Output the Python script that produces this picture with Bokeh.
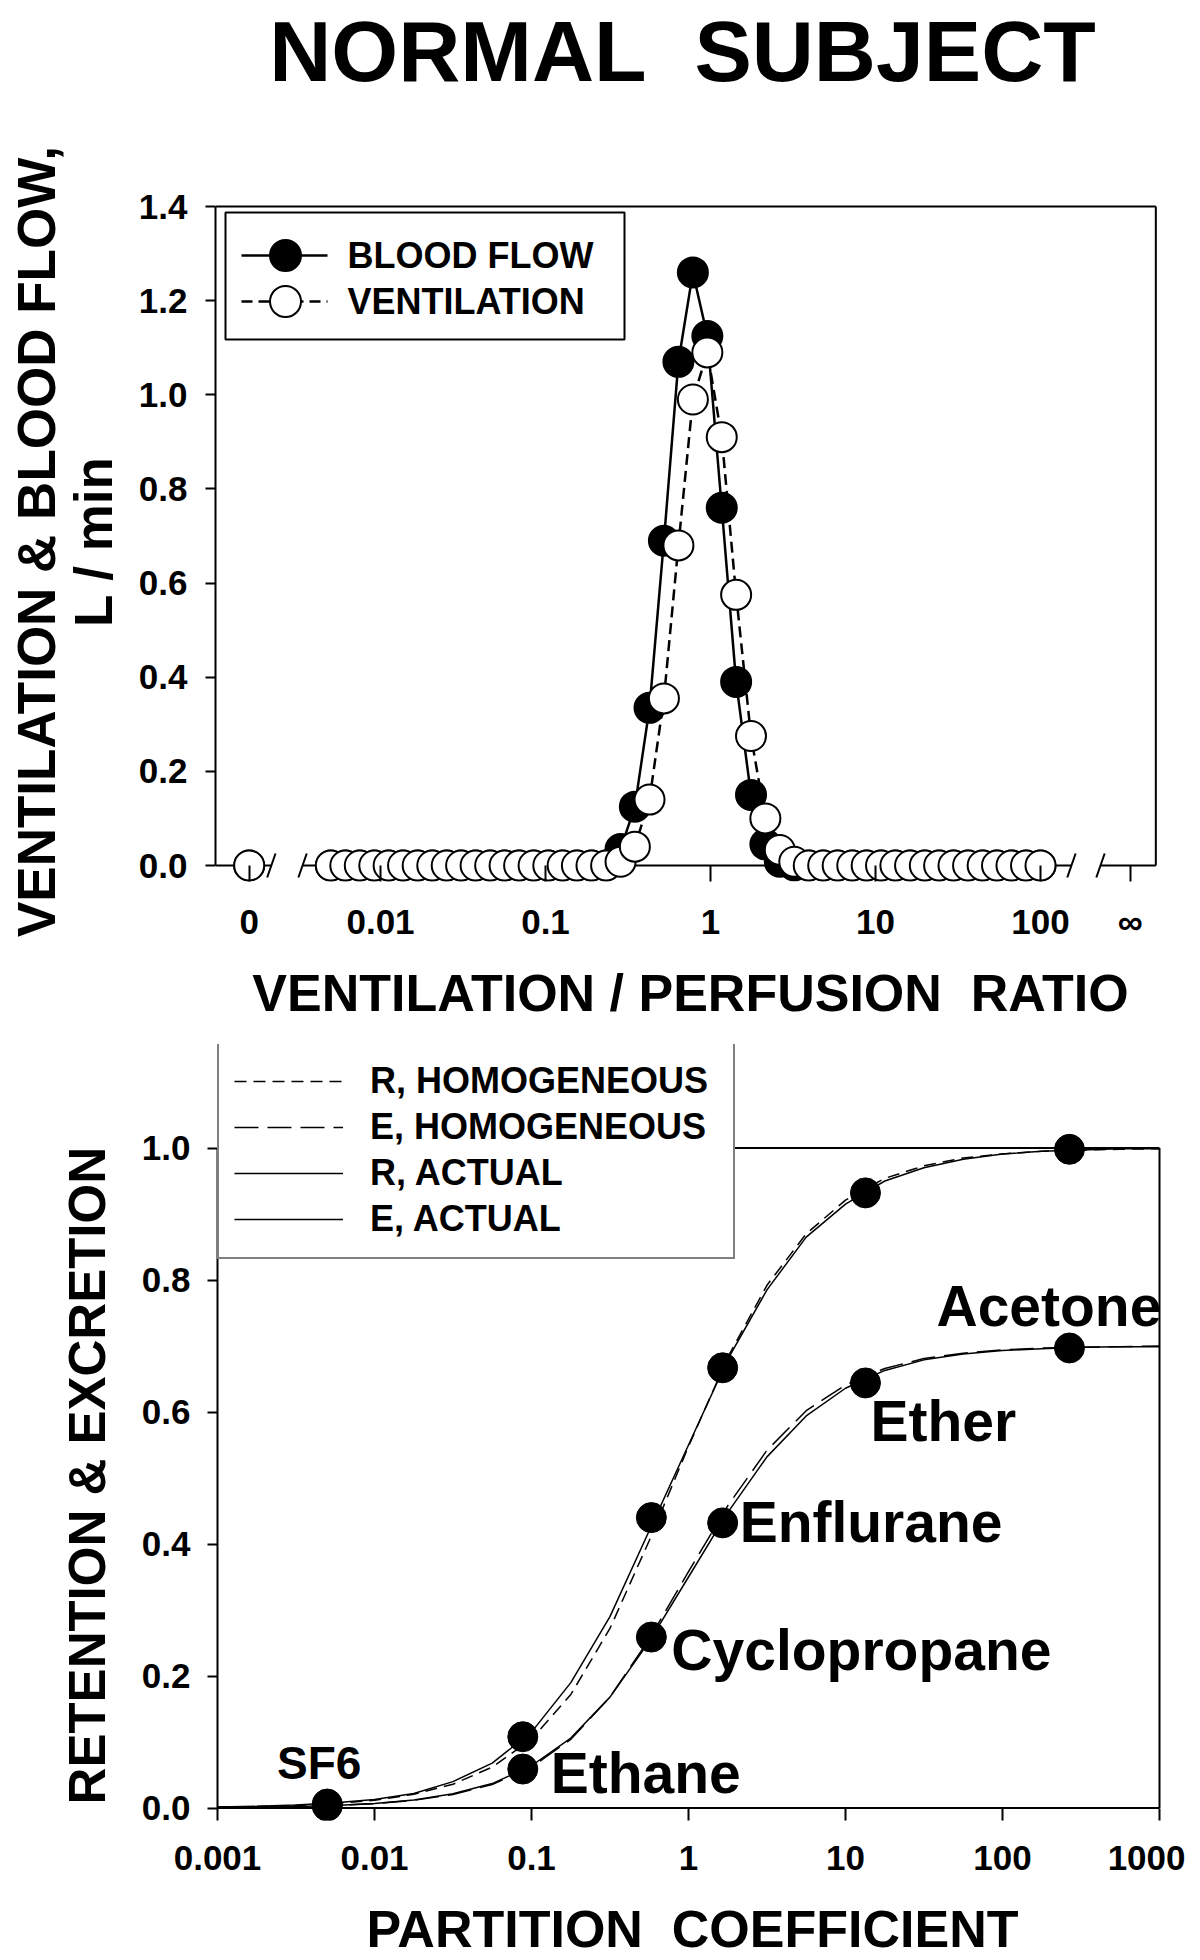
import math
from bokeh.plotting import figure
from bokeh.models import Range1d, FixedTicker, Legend, LegendItem, PrintfTickFormatter
from bokeh.layouts import column, row
from bokeh.embed import file_html
from bokeh.resources import INLINE
from bokeh.core.properties import value

FONT = "Liberation Sans"
NBSP = "\u00a0"

# ---------------- top panel: V/Q distribution ----------------
va_q_ratio = [0.005, 0.00612, 0.00749, 0.00917, 0.0112, 0.0137, 0.0168, 0.0206, 0.0252, 0.0308,
              0.0377, 0.0462, 0.0565, 0.0692, 0.0847, 0.104, 0.127, 0.155, 0.190, 0.233,
              0.285, 0.348, 0.427, 0.522, 0.639, 0.782, 0.957, 1.17, 1.43, 1.76,
              2.15, 2.63, 3.22, 3.94, 4.82, 5.90, 7.23, 8.84, 10.8, 13.2,
              16.2, 19.9, 24.3, 29.7, 36.4, 44.6, 54.5, 66.7, 81.7, 100.0]
blood_flow = [0.0, 0.0, 0.0, 0.0, 0.0, 0.0, 0.0, 0.0, 0.0, 0.0,
              0.0, 0.0, 0.0, 0.0, 0.0, 0.0, 0.0, 0.0, 0.0, 0.0,
              0.035, 0.125, 0.335, 0.69, 1.07, 1.26, 1.125, 0.76, 0.39, 0.15,
              0.045, 0.008, 0.0, 0.0, 0.0, 0.0, 0.0, 0.0, 0.0, 0.0,
              0.0, 0.0, 0.0, 0.0, 0.0, 0.0, 0.0, 0.0, 0.0, 0.0]
ventilation = [0.0, 0.0, 0.0, 0.0, 0.0, 0.0, 0.0, 0.0, 0.0, 0.0,
               0.0, 0.0, 0.0, 0.0, 0.0, 0.0, 0.0, 0.0, 0.0, 0.0,
               0.008, 0.04, 0.14, 0.355, 0.68, 0.99, 1.09, 0.91, 0.575, 0.275,
               0.10, 0.033, 0.008, 0.0, 0.0, 0.0, 0.0, 0.0, 0.0, 0.0,
               0.0, 0.0, 0.0, 0.0, 0.0, 0.0, 0.0, 0.0, 0.0, 0.0]
shunt_position = [0.0016]          # where "0" (V/Q = 0) sits on the axis
shunt_blood_flow = [0.0]
shunt_ventilation = [0.0]

top_tick_values = [0.0016, 0.01, 0.1, 1, 10, 100, 350]
top_tick_labels = ["0", "0.01", "0.1", "1", "10", "100", "\u221e"]
top_y_ticks = [0.0, 0.2, 0.4, 0.6, 0.8, 1.0, 1.2, 1.4]
axis_breaks = [0.00218, 0.00337, 154, 231]

# ---------------- bottom panel: retention / excretion ----------------
gases = ["SF6", "Ethane", "Cyclopropane", "Enflurane", "Ether", "Acetone"]
partition = [0.005, 0.088, 0.58, 1.65, 13.4, 267]
retention = [0.006, 0.108, 0.44, 0.667, 0.932, 0.998]
excretion = [0.003, 0.059, 0.259, 0.432, 0.644, 0.697]

curve_lambda = [0.001, 0.00178, 0.00316, 0.00562, 0.01, 0.0178, 0.0316, 0.0562, 0.1, 0.178,
                0.316, 0.562, 1.0, 1.78, 3.16, 5.62, 10.0, 17.8, 31.6, 56.2,
                100.0, 178.0, 316.0, 562.0, 1000.0]
r_homogeneous = [0.0012, 0.0021, 0.0038, 0.0067, 0.0118, 0.0207, 0.036, 0.062, 0.104, 0.172,
                 0.272, 0.405, 0.548, 0.683, 0.792, 0.870, 0.921, 0.954, 0.973, 0.985,
                 0.991, 0.995, 0.997, 0.998, 0.999]
e_homogeneous = [0.0007, 0.0012, 0.0021, 0.0037, 0.0066, 0.0116, 0.0205, 0.0355, 0.062, 0.104,
                 0.168, 0.256, 0.358, 0.458, 0.542, 0.602, 0.641, 0.666, 0.681, 0.689,
                 0.694, 0.697, 0.698, 0.699, 0.700]
r_actual = [0.0015, 0.0025, 0.0045, 0.008, 0.013, 0.022, 0.040, 0.068, 0.115, 0.19,
            0.29, 0.42, 0.55, 0.68, 0.785, 0.865, 0.915, 0.950, 0.970, 0.983,
            0.991, 0.995, 0.997, 0.999, 0.999]
e_actual = [0.0007, 0.0012, 0.0022, 0.0039, 0.0069, 0.0122, 0.0215, 0.037, 0.064, 0.106,
            0.168, 0.252, 0.350, 0.448, 0.532, 0.594, 0.636, 0.663, 0.679, 0.688,
            0.693, 0.696, 0.698, 0.699, 0.699]

bottom_tick_values = [0.001, 0.01, 0.1, 1, 10, 100, 1000]
bottom_tick_labels = ["0.001", "0.01", "0.1", "1", "10", "100", "1000"]
bottom_y_ticks = [0.0, 0.2, 0.4, 0.6, 0.8, 1.0]


def style_common(p):
    p.outline_line_color = None
    p.xgrid.visible = False
    p.ygrid.visible = False
    p.background_fill_color = "white"
    p.border_fill_color = "white"
    for ax in (p.xaxis[0], p.yaxis[0]):
        ax.major_label_text_font = FONT
        ax.major_label_text_font_style = "bold"
        ax.major_label_text_font_size = "35px"
        ax.major_label_text_color = "black"
        ax.axis_label_text_font = FONT
        ax.axis_label_text_font_style = "bold"
        ax.axis_label_text_font_size = "52px"
        ax.axis_label_text_color = "black"
        ax.minor_tick_line_color = None
        ax.major_tick_line_width = 2
        ax.major_tick_line_color = "black"
    p.xaxis[0].axis_line_color = None
    p.xaxis[0].major_tick_out = 0
    p.yaxis[0].axis_line_width = 2
    p.yaxis[0].axis_line_color = "black"
    p.yaxis[0].major_tick_out = 10
    p.yaxis[0].major_tick_in = 0


def text_strip(width, height, yspan):
    """A bare figure (frame = whole strip, pixel coordinates) used for titles."""
    f = figure(width=width, height=height, x_range=Range1d(0, width), y_range=Range1d(0, yspan),
               x_axis_location=None, y_axis_location=None, output_backend="svg",
               toolbar_location=None, min_border=0, title=None)
    f.outline_line_color = None
    f.grid.visible = False
    f.background_fill_color = "white"
    f.border_fill_color = "white"
    return f


def strip_text(f, x, y, text, size, angle=0.0):
    f.text(x=[x], y=[y], text=[text], angle=angle, text_font=value(FONT), text_font_style="bold",
           text_font_size=size, text_align="center", text_baseline="middle", text_color="black")


PAGE_W = 1185
TITLE_H = 100

# ================= TITLE =================
title_fig = text_strip(PAGE_W, TITLE_H, TITLE_H)
strip_text(title_fig, 682, TITLE_H - 50, "NORMAL" + NBSP + " SUBJECT", "86px")

# ================= TOP FIGURE =================
TOP_DEC = 165.0      # px per decade
TOP_UNIT = 470.7     # px per L/min
TOP_FRAME_W = 950
TOP_FRAME_H = 680
top_x0 = 0.001
top_y0 = -16 / TOP_UNIT


def tx(dpx):
    return 10 ** (math.log10(top_x0) + dpx / TOP_DEC)


def ty(dpx):
    return dpx / TOP_UNIT


top = figure(frame_width=TOP_FRAME_W, frame_height=TOP_FRAME_H, x_axis_type="log",
             x_range=Range1d(top_x0, tx(TOP_FRAME_W)),
             y_range=Range1d(top_y0, top_y0 + TOP_FRAME_H / TOP_UNIT),
             output_backend="svg", toolbar_location=None, title=None,
             min_border_left=215, min_border_right=20, min_border_top=101, min_border_bottom=153)
style_common(top)

top_box_right = 500
top_box_top = top_y_ticks[-1]

xa = top.xaxis[0]
xa.ticker = FixedTicker(ticks=top_tick_values)
xa.major_label_overrides = dict(zip(top_tick_values, top_tick_labels))
xa.major_tick_in = 16
xa.major_label_standoff = 20
xa.axis_label = "VENTILATION / PERFUSION" + NBSP + " RATIO"
xa.axis_label_standoff = 20

ya = top.yaxis[0]
ya.ticker = FixedTicker(ticks=top_y_ticks)
ya.formatter = PrintfTickFormatter(format="%.1f")
ya.major_label_standoff = 18
ya.bounds = (0, top_box_top)
ya.axis_label = "VENTILATION & BLOOD FLOW,\nL / min"
ya.axis_label_text_font_size = "53px"
ya.axis_label_text_line_height = 0.96
ya.axis_label_standoff = 13

# frame lines (top and right) and broken baseline
top.segment(x0=[top_x0, top_box_right], y0=[top_box_top, 0],
            x1=[top_box_right, top_box_right], y1=[top_box_top, top_box_top],
            line_color="black", line_width=2)
base_x0 = [top_x0, axis_breaks[1], axis_breaks[3]]
base_x1 = [axis_breaks[0], axis_breaks[2], top_box_right]
top.segment(x0=base_x0, y0=[0, 0, 0], x1=base_x1, y1=[0, 0, 0],
            line_color="black", line_width=2)
slash_h = ty(12)
top.segment(x0=[b / 1.06 for b in axis_breaks], y0=[-slash_h] * 4,
            x1=[b * 1.06 for b in axis_breaks], y1=[slash_h] * 4,
            line_color="black", line_width=2)

top.line(va_q_ratio, blood_flow, line_color="black", line_width=2.5)
top.line(va_q_ratio, ventilation, line_color="black", line_width=2.5, line_dash="11 6")
top.scatter(va_q_ratio, blood_flow, marker="circle", size=30,
            fill_color="black", line_color="black", line_width=2)
top.scatter(va_q_ratio, ventilation, marker="circle", size=30,
            fill_color="white", line_color="black", line_width=2)
top.scatter(shunt_position, shunt_blood_flow, marker="circle", size=30,
            fill_color="black", line_color="black", line_width=2)
top.scatter(shunt_position, shunt_ventilation, marker="circle", size=30,
            fill_color="white", line_color="black", line_width=2)

# legend (drawn by hand so that its markers match the data markers)
top.quad(left=[tx(10)], right=[tx(409)], top=[ty(653)], bottom=[ty(526)],
         fill_color="white", line_color="black", line_width=2)
legend_rows = [ty(610), ty(564)]
legend_names = ["BLOOD FLOW", "VENTILATION"]
legend_fill = ["black", "white"]
legend_dash = ["solid", "11 6"]
for ry, name, fc, dash in zip(legend_rows, legend_names, legend_fill, legend_dash):
    top.line([tx(26), tx(112)], [ry, ry], line_color="black", line_width=2.5, line_dash=dash)
    top.scatter([tx(70)], [ry], marker="circle", size=31, fill_color=fc,
                line_color="black", line_width=2)
    top.text(x=[tx(132)], y=[ry], text=[name], text_font=value(FONT), text_font_style="bold",
             text_font_size="36px", text_align="left", text_baseline="middle", text_color="black")

# ================= BOTTOM FIGURE =================
BOT_DEC = 157.0
BOT_UNIT = 660.0
BOT_FRAME_W = 950
BOT_FRAME_H = 776
LABEL_W = 120
bot_x0 = 0.001
bot_y_top = 763.5 / BOT_UNIT


def bx(dpx):
    return 10 ** (math.log10(bot_x0) + dpx / BOT_DEC)


bot = figure(frame_width=BOT_FRAME_W, frame_height=BOT_FRAME_H, x_axis_type="log",
             x_range=Range1d(bot_x0, bx(BOT_FRAME_W)),
             y_range=Range1d(bot_y_top - BOT_FRAME_H / BOT_UNIT, bot_y_top),
             output_backend="svg", toolbar_location=None, title=None,
             min_border_left=97, min_border_right=18, min_border_top=10, min_border_bottom=135)
style_common(bot)
BOT_H = 10 + BOT_FRAME_H + 135

bx_left = bottom_tick_values[0]
bx_right = bottom_tick_values[-1]
by_top = bottom_y_ticks[-1]

xb = bot.xaxis[0]
xb.ticker = FixedTicker(ticks=bottom_tick_values)
xb.major_label_overrides = dict(zip(bottom_tick_values, bottom_tick_labels))
xb.major_tick_in = 12
xb.major_label_standoff = 25
xb.axis_label = "PARTITION" + NBSP + " COEFFICIENT"
xb.axis_label_standoff = 27

yb = bot.yaxis[0]
yb.ticker = FixedTicker(ticks=bottom_y_ticks)
yb.formatter = PrintfTickFormatter(format="%.1f")
yb.major_label_standoff = 17
yb.bounds = (0, by_top)

bot.segment(x0=[bx_left, bx_right, bx_left], y0=[by_top, 0, 0],
            x1=[bx_right, bx_right, bx_right], y1=[by_top, by_top, 0],
            line_color="black", line_width=2)

r_hom = bot.line(curve_lambda, r_homogeneous, line_color="black", line_width=1.5, line_dash="12 7")
e_hom = bot.line(curve_lambda, e_homogeneous, line_color="black", line_width=1.5, line_dash="24 9")
r_act = bot.line(curve_lambda, r_actual, line_color="black", line_width=1.5)
e_act = bot.line(curve_lambda, e_actual, line_color="black", line_width=1.5)

bot.scatter(partition, retention, marker="circle", size=30, fill_color="black", line_color="black")
bot.scatter(partition, excretion, marker="circle", size=30, fill_color="black", line_color="black")

# gas names, placed next to each excretion point (screen offsets, px)
label_dx = [-8, 28, 20, 17, 5, -133]
label_dy = [-43, 4, 13, -1, 38, -42]
label_size = ["46px", "57px", "57px", "57px", "57px", "57px"]
label_align = ["center", "left", "left", "left", "left", "left"]
for name, xv, yv, dx, dy, fs, al in zip(gases, partition, excretion, label_dx, label_dy,
                                        label_size, label_align):
    bot.text(x=[xv], y=[yv], text=[name], x_offset=dx, y_offset=dy,
             text_font=value(FONT), text_font_style="bold", text_font_size=fs,
             text_align=al, text_baseline="alphabetic", text_color="black")

leg_bot = Legend(items=[LegendItem(label="R, HOMOGENEOUS", renderers=[r_hom]),
                        LegendItem(label="E, HOMOGENEOUS", renderers=[e_hom]),
                        LegendItem(label="R, ACTUAL", renderers=[r_act]),
                        LegendItem(label="E, ACTUAL", renderers=[e_act])],
                 location=(0, 561), orientation="vertical",
                 glyph_width=109, glyph_height=46, spacing=0, padding=15, margin=0,
                 label_standoff=27, label_width=348,
                 label_text_font=FONT, label_text_font_style="bold",
                 label_text_font_size="36px", label_text_color="black",
                 border_line_color="black", border_line_width=2,
                 background_fill_color="white", background_fill_alpha=1.0)
bot.add_layout(leg_bot)

# the y title strip shares the plot's frame height (row aligns frames)
bot_ylab = text_strip(LABEL_W, BOT_H, BOT_FRAME_H)
strip_text(bot_ylab, 87, 342, "RETENTION & EXCRETION", "51px", math.pi / 2)

layout = column(title_fig, row(top, spacing=0), row(bot_ylab, bot, spacing=0), spacing=0)
open("out.html", "w").write(file_html(layout, INLINE, title="Normal subject"))
